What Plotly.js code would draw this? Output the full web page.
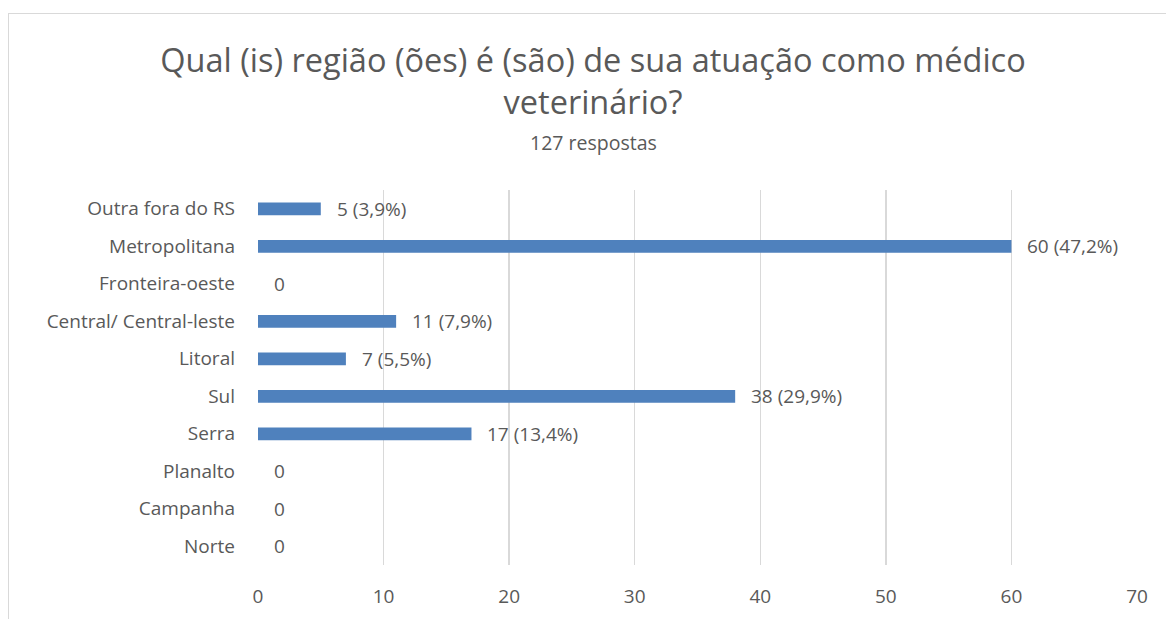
<!DOCTYPE html>
<html>
<head>
<meta charset="utf-8">
<script src="https://cdn.plot.ly/plotly-3.0.1.min.js"></script>
<style>
html,body{margin:0;padding:0;background:#fff;overflow:hidden;}
#chart{width:1166px;height:619px;}
#frame{position:absolute;left:8px;top:13px;width:1200px;height:700px;border:1px solid #d9d9d9;pointer-events:none;}
</style>
</head>
<body>
<div id="chart"></div>
<div id="frame"></div>
<script>
const categories = ["Norte","Campanha","Planalto","Serra","Sul","Litoral","Central/ Central-leste","Fronteira-oeste","Metropolitana","Outra fora do RS"];
const values = [0,0,0,17,38,7,11,0,60,5];
const labels = ["0","0","0","17 (13,4%)","38 (29,9%)","7 (5,5%)","11 (7,9%)","0","60 (47,2%)","5 (3,9%)"];
const xTicks = [0,10,20,30,40,50,60,70];
const titleText = "Qual (is) região (ões) é (são) de sua atuação como médico<br>veterinário?";
const subtitleText = "127 respostas";

const font = "'Open Sans', 'Noto Sans', sans-serif";
const grey = "#595959";

const annotations = categories.map((c,i)=>({
  x: values[i], y: c, xref:'x', yref:'y', text: labels[i],
  showarrow:false, xanchor:'left', yanchor:'middle', xshift:14,
  font:{family:font,size:19,color:grey}
}));
annotations.push({
  x: (593-258)/879, y: (565-142)/375, xref:'paper', yref:'paper', text: subtitleText,
  showarrow:false, xanchor:'center', yanchor:'middle',
  font:{family:font,size:19.5,color:grey}
});

const trace = {
  type:'bar', orientation:'h', x: values, y: categories,
  marker:{color:'#4f81bd'}, width:0.34, hoverinfo:'none'
};

const layout = {
  width:1166, height:619,
  margin:{l:258, r:29, t:190, b:54},
  paper_bgcolor:'#fff', plot_bgcolor:'#fff',
  showlegend:false,
  title:{
    text:titleText,
    font:{family:font,size:32.5,color:grey},
    x:593/1166, xanchor:'center', xref:'container',
    y:1-72/619, yanchor:'middle', yref:'container'
  },
  xaxis:{
    range:[0,70], tickvals:xTicks, ticktext:xTicks.map(String),
    showgrid:true, gridcolor:'#d9d9d9', gridwidth:1.5,
    zeroline:false, showline:false, ticks:'',
    tickfont:{family:font,size:19,color:grey}, ticklabelstandoff:18, fixedrange:true
  },
  yaxis:{
    type:'category', categoryorder:'array', categoryarray:categories,
    showgrid:false, zeroline:false, showline:false, ticks:'',
    tickfont:{family:font,size:19,color:grey}, ticklabelstandoff:22, fixedrange:true
  },
  annotations: annotations
};

Plotly.newPlot('chart',[trace],layout,{displayModeBar:false,staticPlot:true});
</script>
</body>
</html>
